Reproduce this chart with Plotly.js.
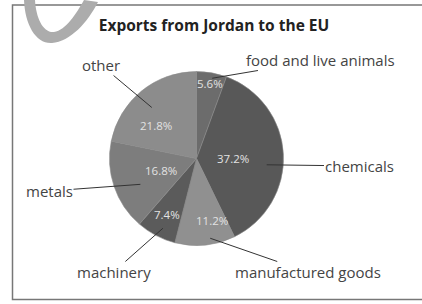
<!DOCTYPE html>
<html>
<head>
<meta charset="utf-8">
<script src="https://cdn.plot.ly/plotly-3.0.1.min.js"></script>
<style>html,body{margin:0;padding:0;background:#fff;}#chart{width:422px;height:304px;}</style>
</head>
<body>
<div id="chart"></div>
<script>
// ---- data ----
const categories = ['food and live animals', 'chemicals', 'manufactured goods', 'machinery', 'metals', 'other'];
const shares = [5.6, 37.2, 11.2, 7.4, 16.8, 21.8];
const sliceColors = ['#6c6c6c', '#585858', '#909090', '#5b5b5b', '#7d7d7d', '#8c8c8c'];
const chartTitle = 'Exports from Jordan to the EU';

// ---- layout helpers ----
const W = 422, H = 304;
const pieCx = 196.5, pieCy = 158.5, pieR = 87;
const domain = {
  x: [(pieCx - pieR) / W, (pieCx + pieR) / W],
  y: [(H - pieCy - pieR) / H, (H - pieCy + pieR) / H]
};
const px = x => x / W;
const py = y => 1 - y / H;

// percent label placement (fraction of radius, angle nudge in degrees)
const pctRadius = [0.87, 0.42, 0.73, 0.73, 0.43, 0.60];
const pctNudge = [0, 3, -8, 0, 0, -11];
// leader line head placement
const headRadius = [0.94, 0.81, 0.93, 0.89, 0.71, 0.78];
const headNudge = [1, 8, -4, -2, -6, -2];
// category label centers (pixels)
const labelPos = [[320, 60], [359, 166], [307.5, 272], [113.5, 272], [49.5, 191], [101, 65]];

const total = shares.reduce((a, b) => a + b, 0);
let cum = 0;
const annotations = [];
shares.forEach((v, i) => {
  const mid = (cum + v / 2) / total;
  cum += v;
  const base = mid * 360;
  let a = (base + pctNudge[i]) * Math.PI / 180;
  let r = pctRadius[i] * pieR;
  annotations.push({
    x: px(pieCx + r * Math.sin(a)), y: py(pieCy - r * Math.cos(a)),
    xref: 'paper', yref: 'paper', showarrow: false,
    text: v.toFixed(1) + '%',
    font: {family: 'Open Sans, sans-serif', size: 11.5, color: '#e2e2e2'},
    xanchor: 'center', yanchor: 'middle'
  });
  a = (base + headNudge[i]) * Math.PI / 180;
  r = headRadius[i] * pieR;
  const hx = pieCx + r * Math.sin(a), hy = pieCy - r * Math.cos(a);
  annotations.push({
    x: px(hx), y: py(hy), xref: 'paper', yref: 'paper',
    showarrow: true, arrowhead: 0, arrowwidth: 1, arrowcolor: '#333',
    standoff: 0, startstandoff: 0,
    ax: labelPos[i][0] - hx, ay: labelPos[i][1] - hy,
    text: categories[i],
    font: {family: 'Open Sans, sans-serif', size: 15, color: '#444'},
    borderpad: 0
  });
});

const trace = {
  type: 'pie',
  values: shares,
  labels: categories,
  sort: false,
  direction: 'clockwise',
  rotation: 0,
  textinfo: 'none',
  hoverinfo: 'none',
  marker: {colors: sliceColors, line: {color: '#8a8a8a', width: 0.6}},
  domain: domain,
  showlegend: false
};

// decorative swoosh (top-left), drawn in pixel offsets from the top-left corner (y up)
const P = (x, y) => x + ',' + (-y);
const swoosh = 'M ' + P(24, 0) +
  ' C ' + P(25, 25) + ' ' + P(36, 44) + ' ' + P(52, 43) +
  ' C ' + P(70, 42) + ' ' + P(88, 22) + ' ' + P(98, 2) +
  ' L ' + P(84, 0) +
  ' C ' + P(76, 14) + ' ' + P(66, 30) + ' ' + P(54, 32) +
  ' C ' + P(43, 33) + ' ' + P(36, 18) + ' ' + P(35, 0) + ' Z';

const layout = {
  width: W, height: H,
  margin: {l: 0, r: 0, t: 0, b: 0},
  paper_bgcolor: '#ffffff',
  title: {
    text: '<b>' + chartTitle + '</b>',
    x: px(214), y: py(26), xanchor: 'center', yanchor: 'middle',
    xref: 'paper', yref: 'paper',
    font: {family: 'Open Sans, sans-serif', size: 15.5, color: '#222'}
  },
  shapes: [
    {type: 'rect', xref: 'paper', yref: 'paper', x0: px(12.5), x1: px(430), y0: py(299.5), y1: py(5),
     line: {color: '#777', width: 1.5}, layer: 'below'},
    {type: 'path', xref: 'paper', yref: 'paper', xsizemode: 'pixel', ysizemode: 'pixel',
     xanchor: 0, yanchor: 1, path: swoosh, fillcolor: '#acacac',
     line: {width: 0}, layer: 'above'}
  ],
  annotations: annotations
};

Plotly.newPlot('chart', [trace], layout, {displayModeBar: false, staticPlot: true});
</script>
</body>
</html>
